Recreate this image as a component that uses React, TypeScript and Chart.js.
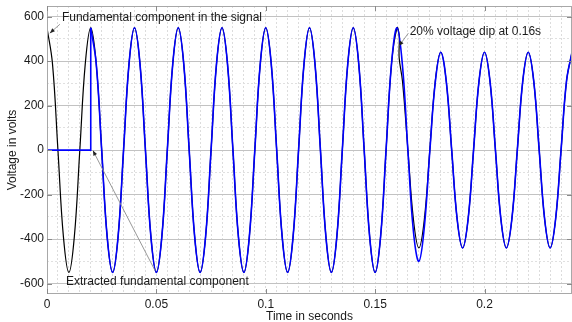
import React, { useEffect, useRef } from "react";
import { Chart, registerables } from "chart.js";

Chart.register(...registerables);

// ---- data ----
const X_TICKS = [0, 0.05, 0.1, 0.15, 0.2];
const Y_TICKS = [-600, -400, -200, 0, 200, 400, 600];
const Y_GRID = [-600, -500, -400, -300, -200, -100, 0, 100, 200, 300, 400, 500, 600];

// Fundamental component in the signal (black)
const BLACK_T = [
  0, 0.0025, 0.005, 0.0075, 0.01, 0.0125, 0.015, 0.0175,
  0.02, 0.0225, 0.025, 0.0275, 0.03, 0.0325, 0.035, 0.0375,
  0.04, 0.0425, 0.045, 0.0475, 0.05, 0.0525, 0.055, 0.0575,
  0.06, 0.0625, 0.065, 0.0675, 0.07, 0.0725, 0.075, 0.0775,
  0.08, 0.0825, 0.085, 0.0875, 0.09, 0.0925, 0.095, 0.0975,
  0.1, 0.1025, 0.105, 0.1075, 0.11, 0.1125, 0.115, 0.1175,
  0.12, 0.1225, 0.125, 0.1275, 0.13, 0.1325, 0.135, 0.1375,
  0.14, 0.1425, 0.145, 0.1475, 0.15, 0.1525, 0.155, 0.1575,
  0.16, 0.161, 0.161, 0.1625, 0.165, 0.1675,
  0.17, 0.1725, 0.175, 0.1775, 0.18, 0.1825, 0.185, 0.1875,
  0.19, 0.1925, 0.195, 0.1975, 0.2, 0.2025, 0.205, 0.2075,
  0.21, 0.2125, 0.215, 0.2175, 0.22, 0.2225, 0.225, 0.2275,
  0.23, 0.2325, 0.235, 0.2375, 0.24,
];
const BLACK_V = [
  550, 389, 0, -389, -550, -389, 0, 389,
  550, 389, 0, -389, -550, -389, 0, 389,
  550, 389, 0, -389, -550, -389, 0, 389,
  550, 389, 0, -389, -550, -389, 0, 389,
  550, 389, 0, -389, -550, -389, 0, 389,
  550, 389, 0, -389, -550, -389, 0, 389,
  550, 389, 0, -389, -550, -389, 0, 389,
  550, 389, 0, -389, -550, -389, 0, 389,
  550, 517, 414, 311, 0, -311,
  -440, -311, 0, 311, 440, 311, 0, -311,
  -440, -311, 0, 311, 440, 311, 0, -311,
  -440, -311, 0, 311, 440, 311, 0, -311,
  -440, -311, 0, 311, 440,
];

// Extracted fundamental component (blue): zero until 0.02 s, then a jump
const BLUE_START_T = [0, 0.02, 0.02];
const BLUE_START_V = [0, 0, 550];
const BLUE_T = [
  0.02, 0.0225, 0.025, 0.0275, 0.03, 0.0325, 0.035, 0.0375,
  0.04, 0.0425, 0.045, 0.0475, 0.05, 0.0525, 0.055, 0.0575,
  0.06, 0.0625, 0.065, 0.0675, 0.07, 0.0725, 0.075, 0.0775,
  0.08, 0.0825, 0.085, 0.0875, 0.09, 0.0925, 0.095, 0.0975,
  0.1, 0.1025, 0.105, 0.1075, 0.11, 0.1125, 0.115, 0.1175,
  0.12, 0.1225, 0.125, 0.1275, 0.13, 0.1325, 0.135, 0.1375,
  0.14, 0.1425, 0.145, 0.1475, 0.15, 0.1525, 0.155, 0.1575,
  0.16, 0.1625, 0.165, 0.1675,
  0.17, 0.1725, 0.175, 0.1775, 0.18, 0.1825, 0.185, 0.1875,
  0.19, 0.1925, 0.195, 0.1975, 0.2, 0.2025, 0.205, 0.2075,
  0.21, 0.2125, 0.215, 0.2175, 0.22, 0.2225, 0.225, 0.2275,
  0.23, 0.2325, 0.235, 0.2375, 0.24,
];
const BLUE_V = [
  550, 389, 0, -389, -550, -389, 0, 389,
  550, 389, 0, -389, -550, -389, 0, 389,
  550, 389, 0, -389, -550, -389, 0, 389,
  550, 389, 0, -389, -550, -389, 0, 389,
  550, 389, 0, -389, -550, -389, 0, 389,
  550, 389, 0, -389, -550, -389, 0, 389,
  550, 389, 0, -389, -550, -389, 0, 389,
  550, 380, -5, -365,
  -500, -345, -5, 305, 440, 311, 0, -311,
  -440, -311, 0, 311, 440, 311, 0, -311,
  -440, -311, 0, 311, 440, 311, 0, -311,
  -440, -311, 0, 311, 440,
];

const NOTE_TEXTS = [
  "Fundamental component in the signal",
  "20% voltage dip at 0.16s",
  "Extracted fundamental component",
];

// annotation placement (data coordinates)
const NOTES = [
  { text: NOTE_TEXTS[0], tx: 0.0068, tv: 596, from: [0.0059, 566], to: [0.0013, 526] },
  { text: NOTE_TEXTS[1], tx: 0.1658, tv: 534, from: [0.1652, 526], to: [0.1609, 468] },
  { text: NOTE_TEXTS[2], tx: 0.0087, tv: -592, from: [0.0494, -542], to: [0.0210, -2] },
];

const FONT_FAMILY = "'Liberation Sans', Arial, Helvetica, sans-serif";
const TEXT_COLOR = "#1a1a1a";

const isLabeledX = (v: number) => X_TICKS.some((t) => Math.abs(t - v) < 1e-7);
const isMajorY = (v: number) => Y_TICKS.some((t) => Math.abs(t - v) < 1e-6);

const toPts = (ts: number[], vs: number[]) => ts.map((t, i) => ({ x: t, y: vs[i] }));

const decorPlugin = {
  id: "decor",
  afterDraw(chart: any) {
    const { ctx, chartArea: a, scales } = chart;
    const xs = scales.x;
    const ys = scales.y;
    ctx.save();
    // frame
    ctx.strokeStyle = "#a8a8a8";
    ctx.lineWidth = 1;
    ctx.setLineDash([]);
    ctx.strokeRect(a.left + 0.5, a.top + 0.5, a.right - a.left - 1, a.bottom - a.top - 1);
    // inward tick marks
    ctx.strokeStyle = "#8a8a8a";
    ctx.beginPath();
    for (const v of X_TICKS) {
      const px = Math.round(xs.getPixelForValue(v)) + 0.5;
      ctx.moveTo(px, a.bottom);
      ctx.lineTo(px, a.bottom - 5);
      ctx.moveTo(px, a.top);
      ctx.lineTo(px, a.top + 5);
    }
    for (const v of Y_TICKS) {
      const py = Math.round(ys.getPixelForValue(v)) + 0.5;
      ctx.moveTo(a.left, py);
      ctx.lineTo(a.left + 5, py);
      ctx.moveTo(a.right, py);
      ctx.lineTo(a.right - 5, py);
    }
    ctx.stroke();
    // annotations
    ctx.font = `12px ${FONT_FAMILY}`;
    ctx.textBaseline = "middle";
    ctx.textAlign = "left";
    for (const n of NOTES) {
      const x1 = xs.getPixelForValue(n.from[0]);
      const y1 = ys.getPixelForValue(n.from[1]);
      const x2 = xs.getPixelForValue(n.to[0]);
      const y2 = ys.getPixelForValue(n.to[1]);
      ctx.strokeStyle = "#8c8c8c";
      ctx.lineWidth = 0.9;
      ctx.beginPath();
      ctx.moveTo(x1, y1);
      ctx.lineTo(x2, y2);
      ctx.stroke();
      const ang = Math.atan2(y2 - y1, x2 - x1);
      const L = 5;
      const W = 2;
      ctx.fillStyle = "#222";
      ctx.beginPath();
      ctx.moveTo(x2, y2);
      ctx.lineTo(x2 - L * Math.cos(ang) + W * Math.sin(ang), y2 - L * Math.sin(ang) - W * Math.cos(ang));
      ctx.lineTo(x2 - L * Math.cos(ang) - W * Math.sin(ang), y2 - L * Math.sin(ang) + W * Math.cos(ang));
      ctx.closePath();
      ctx.fill();
      ctx.fillStyle = TEXT_COLOR;
      ctx.fillText(n.text, xs.getPixelForValue(n.tx), ys.getPixelForValue(n.tv));
    }
    ctx.restore();
  },
};

export default function App() {
  const ref = useRef<HTMLCanvasElement | null>(null);

  useEffect(() => {
    document.body.style.margin = "0";
    const canvas = ref.current;
    if (!canvas) return;
    const font = { family: FONT_FAMILY, size: 12 };
    const chart = new Chart(canvas, {
      type: "line",
      data: {
        datasets: [
          {
            label: "Extracted start",
            data: toPts(BLUE_START_T, BLUE_START_V),
            borderColor: "#0000ff",
            borderWidth: 1.6,
            tension: 0,
            pointRadius: 0,
          },
          {
            label: "Extracted fundamental component",
            data: toPts(BLUE_T, BLUE_V),
            borderColor: "#0000ff",
            borderWidth: 1.6,
            tension: 0.4,
            pointRadius: 0,
          },
          {
            label: "Fundamental component in the signal",
            data: toPts(BLACK_T, BLACK_V),
            borderColor: "#000000",
            borderWidth: 1.2,
            tension: 0.4,
            pointRadius: 0,
          },
        ],
      },
      options: {
        animation: false,
        responsive: false,
        maintainAspectRatio: false,
        events: [],
        layout: { padding: { top: 6, right: 0, left: 0, bottom: 0 } },
        plugins: { legend: { display: false }, tooltip: { enabled: false } },
        scales: {
          x: {
            type: "linear",
            min: 0,
            max: 0.24,
            ticks: {
              stepSize: 0.005,
              autoSkip: false,
              maxRotation: 0,
              padding: 3,
              font,
              color: TEXT_COLOR,
              callback: (v: any) => (isLabeledX(Number(v)) ? String(Math.round(Number(v) * 100) / 100) : ""),
            },
            grid: { color: "#dcdcdc", lineWidth: 1, drawTicks: false },
            border: { display: false, dash: [2, 2] },
            title: {
              display: true,
              text: "Time in seconds",
              font: { ...font, lineHeight: 1 },
              color: TEXT_COLOR,
              padding: { top: 0, bottom: -1 },
            },
            afterFit: (s: any) => {
              s.height = 28;
              s.paddingLeft = 0;
              s.paddingRight = 0;
            },
          },
          y: {
            type: "linear",
            min: -647,
            max: 648,
            afterBuildTicks: (s: any) => {
              s.ticks = Y_GRID.map((v) => ({ value: v }));
            },
            ticks: {
              autoSkip: false,
              padding: 3,
              font,
              color: TEXT_COLOR,
              callback: (v: any) => (isMajorY(Number(v)) ? String(Number(v)) : ""),
            },
            grid: {
              color: (c: any) => (c.tick && isMajorY(c.tick.value) ? "#c2c2c2" : "#e0e0e0"),
              lineWidth: 1,
              drawTicks: false,
            },
            border: {
              display: false,
              dash: (c: any) => (c.tick && isMajorY(c.tick.value) ? [] : [2, 2]),
            },
            title: {
              display: true,
              text: "Voltage in volts",
              font,
              color: TEXT_COLOR,
              padding: { top: 5, bottom: 0 },
            },
            afterFit: (s: any) => {
              s.width = 47;
              s.paddingTop = 0;
              s.paddingBottom = 0;
            },
          },
        },
      },
      plugins: [decorPlugin],
    } as any);
    return () => chart.destroy();
  }, []);

  return (
    <div style={{ width: 572, height: 322 }}>
      <canvas ref={ref} width={572} height={322} style={{ display: "block" }} />
    </div>
  );
}
